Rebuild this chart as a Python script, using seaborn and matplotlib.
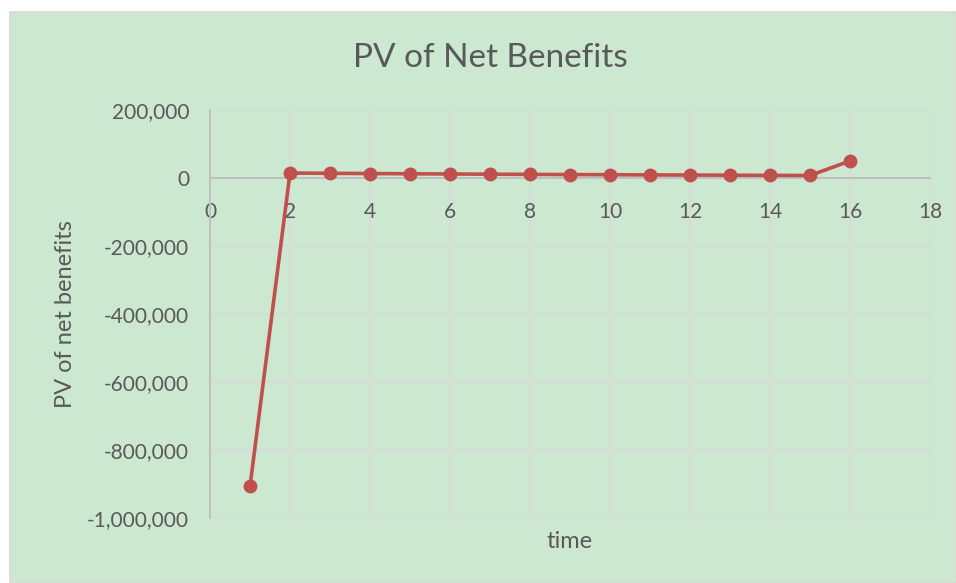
import matplotlib
matplotlib.use("Agg")
import matplotlib.pyplot as plt
import matplotlib.patches as mpatches
from matplotlib.ticker import FuncFormatter, MultipleLocator
import seaborn as sns
import pandas as pd

# Present value of net benefits per period
time = list(range(1, 17))
pv_net_benefits = [-907000, 14500, 13800, 13100, 12400, 11800, 11200, 10600,
                   10100, 9600, 9100, 8700, 8200, 7800, 7400, 50000]

df = pd.DataFrame({"time": time, "pv": pv_net_benefits})

sns.set_theme(style="white")
plt.rcParams["font.family"] = ["Lato", "DejaVu Sans"]
plt.rcParams["axes.unicode_minus"] = False

bg = "#CDE8D0"
txt = "#595959"

fig = plt.figure(figsize=(9.56, 5.83), dpi=100, facecolor="white")
# chart area panel, kept behind the axes
fig.patches.append(mpatches.Rectangle((10 / 956, 0), 1 - 10 / 956, 1 - 12 / 583,
                                      transform=fig.transFigure, facecolor=bg,
                                      edgecolor="#D9D9D9", linewidth=1.2, zorder=-10))

ax = fig.add_axes([210 / 956, 1 - 518 / 583, 720 / 956, 408 / 583])
ax.set_facecolor(bg)

sns.lineplot(data=df, x="time", y="pv", ax=ax, color="#C0504D", linewidth=2.6,
             marker="o", markersize=10, markeredgewidth=0, zorder=5)

ax.set_xlim(0, 18)
ax.set_ylim(-1000000, 200000)
ax.xaxis.set_major_locator(MultipleLocator(2))
ax.yaxis.set_major_locator(MultipleLocator(200000))
ax.yaxis.set_major_formatter(FuncFormatter(lambda v, p: f"{int(v):,}"))

ax.grid(True, color="#D9D9D9", linewidth=1.4)
ax.set_axisbelow(True)

for s in ["top", "right"]:
    ax.spines[s].set_visible(False)
ax.spines["left"].set_color("#BFBFBF")
ax.spines["left"].set_linewidth(1.4)
ax.spines["bottom"].set_position(("data", 0))
ax.spines["bottom"].set_color("#BFBFBF")
ax.spines["bottom"].set_linewidth(1.4)
ax.spines["bottom"].set_zorder(1)

ax.tick_params(axis="both", length=0, colors=txt, labelsize=15)
ax.tick_params(axis="x", pad=17)
ax.tick_params(axis="y", pad=15)

ax.set_xlabel("time", fontsize=17, color=txt, labelpad=0)
ax.xaxis.set_label_coords(0.5, -0.033)
ax.set_ylabel("PV of net benefits", fontsize=17, color=txt)
ax.yaxis.set_label_coords(-0.186, 0.5)

fig.text(490 / 956, 1 - 58 / 583, "PV of Net Benefits", ha="center", va="center",
         fontsize=24, color=txt)

fig.savefig("out.png", dpi=100, facecolor="white")
